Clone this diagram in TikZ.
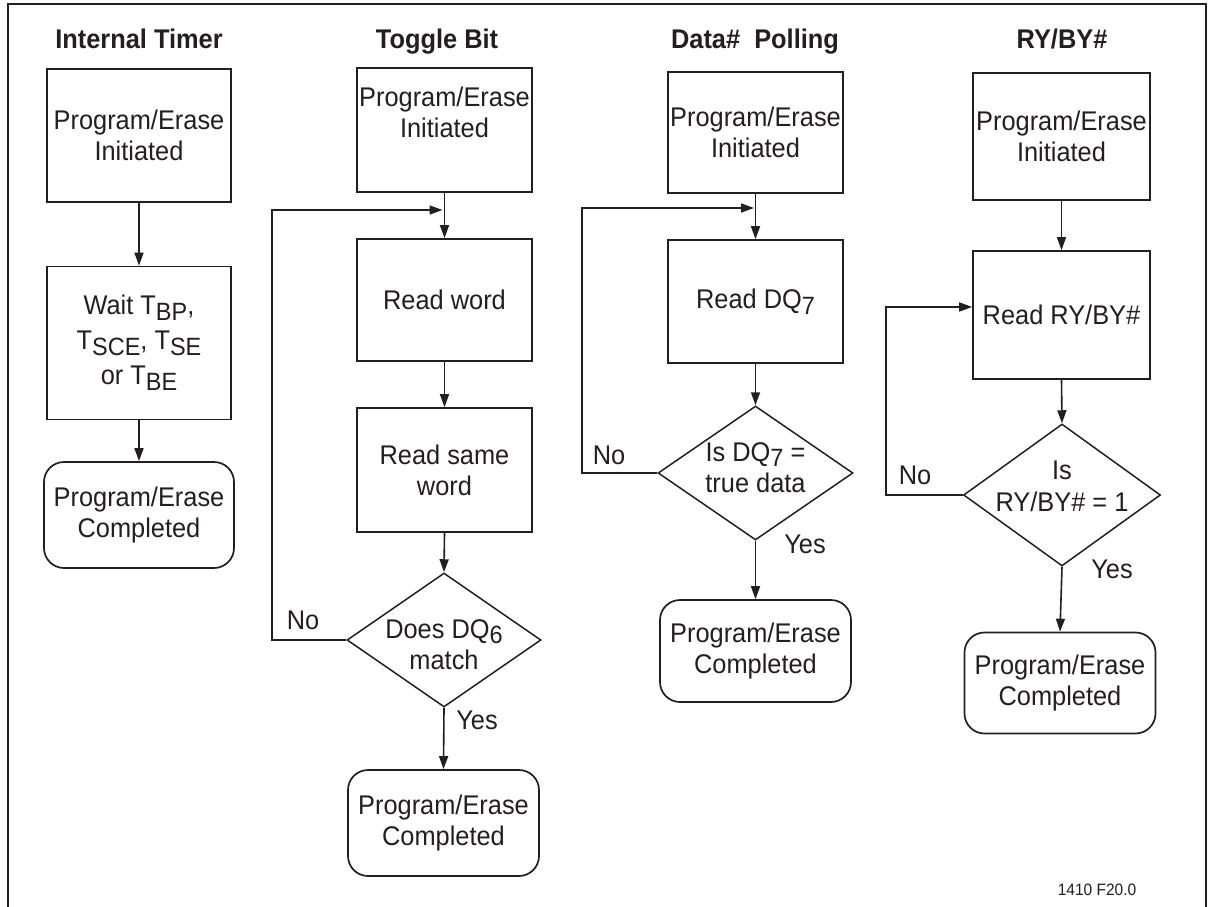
\documentclass[tikz,border=0pt]{standalone}
\usepackage{fontspec}
\setmainfont[FakeStretch=0.94]{Liberation Sans}
\usetikzlibrary{arrows.meta,shapes.geometric}
\definecolor{ink}{HTML}{231F20}
\newcommand\sbs[1]{\raisebox{-6pt}{\fontsize{25}{25}\selectfont #1}}
\newcommand\sbt[1]{\raisebox{-5pt}{\fontsize{25}{25}\selectfont #1}}
\begin{document}
\begin{tikzpicture}[x=1pt,y=-1pt,
  every node/.style={text=ink, font=\fontsize{27}{31}\selectfont},
  ttl/.style={font=\bfseries\fontsize{27}{31}\selectfont, anchor=base, inner sep=0pt},
  boxn/.style={draw=ink, line width=1.7pt, rectangle, inner sep=0pt, align=center},
  endn/.style={draw=ink, line width=1.7pt, rectangle, rounded corners=20pt, inner sep=0pt, align=center},
  dec/.style={draw=ink, line width=1.5pt, diamond, inner sep=0pt},
  dtxt/.style={lbl, align=center, font=\fontsize{27}{29}\selectfont},
  arr/.style={draw=ink, line width=1.6pt, -{Triangle[length=13pt,width=9pt]}},
  lbl/.style={inner sep=0pt}
]
\useasboundingbox (0,0) rectangle (1213,907);
\fill[white] (0,0) rectangle (1213,907);
\draw[ink, line width=2pt] (8,915) -- (8,4) -- (1206,4) -- (1206,915);

% Column 1
\node[ttl] (t1) at (139,49) {Internal Timer};
\node[boxn, minimum width=184pt, minimum height=133pt] (a1) at (139,135.5) {Program/Erase\\Initiated};
\node[boxn, minimum width=184pt, minimum height=153pt, font=\fontsize{27}{35}\selectfont] (a2) at (139,343) {Wait T\sbs{BP},\\T\sbs{SCE}, T\sbs{SE}\\or T\sbs{BE}};
\node[endn, minimum width=190pt, minimum height=106pt] (a3) at (139,515) {Program/Erase\\Completed};
\draw[arr] (a1.south) -- (a2.north);
\draw[arr] (a2.south) -- (a3.north);

% Column 2
\node[ttl] (t2) at (437,49) {Toggle Bit};
\node[boxn, minimum width=175pt, minimum height=124pt] (b1) at (444.5,130) {Program/Erase\\Initiated\\[4pt]};
\node[boxn, minimum width=175pt, minimum height=122pt] (b2) at (444.5,300) {Read word};
\node[boxn, minimum width=175pt, minimum height=124pt] (b3) at (444.5,470) {Read same\\word};
\node[dec, minimum width=194pt, minimum height=134pt,
  label={[dtxt, font=\fontsize{27}{31}\selectfont, yshift=-5pt]center:Does DQ\sbt{6}\\match}] (b4) at (444,640) {};
\node[endn, minimum width=191pt, minimum height=106pt] (b5) at (443.5,823) {Program/Erase\\Completed};
\coordinate (j2) at (444,210);
\coordinate (l2) at (272,210);
\draw[arr] (b1.south) -- (b2.north);
\draw[arr] (b2.south) -- (b3.north);
\draw[arr] (b3.south) -- (b4.north);
\draw[arr] (b4.south) -- (b5.north);
\draw[arr, shorten >=1.5pt] (b4.west) -| (l2) -- (j2);
\node[lbl] (n2) at (303,620) {No};
\node[lbl] (y2) at (477,720) {Yes};

% Column 3
\node[ttl] (t3) at (755,49) {Data\#\ \ Polling};
\node[boxn, minimum width=175pt, minimum height=121pt] (c1) at (755.5,132.5) {Program/Erase\\Initiated};
\node[boxn, minimum width=175pt, minimum height=123pt] (c2) at (755.5,301.5) {Read DQ\sbs{7}};
\node[dec, minimum width=195pt, minimum height=134pt,
  label={[dtxt, font=\fontsize{27}{31}\selectfont, yshift=5pt]center:Is DQ\sbt{7} =\\true data}] (c3) at (755.5,473) {};
\node[endn, minimum width=191pt, minimum height=102pt] (c4) at (755.5,651) {Program/Erase\\Completed};
\coordinate (j3) at (755.5,208);
\coordinate (l3) at (582,208);
\draw[arr] (c1.south) -- (c2.north);
\draw[arr] (c2.south) -- (c3.north);
\draw[arr] (c3.south) -- (c4.north);
\draw[arr, shorten >=1.5pt] (c3.west) -| (l3) -- (j3);
\node[lbl] (n3) at (609,455) {No};
\node[lbl] (y3) at (805,544) {Yes};

% Column 4
\node[ttl] (t4) at (1062,49) {RY/BY\#};
\node[boxn, minimum width=177pt, minimum height=127pt] (d1) at (1061.5,136.5) {Program/Erase\\Initiated};
\node[boxn, minimum width=177pt, minimum height=128pt] (d2) at (1061.5,315) {Read RY/BY\#};
\node[dec, minimum width=197pt, minimum height=142pt,
  label={[dtxt, font=\fontsize{27}{32}\selectfont, yshift=9pt]center:Is\\RY/BY\# = 1}] (d3) at (1062,495) {};
\node[endn, minimum width=191pt, minimum height=101pt] (d4) at (1060,683) {Program/Erase\\Completed};
\coordinate (l4) at (886,307);
\draw[arr] (d1.south) -- (d2.north);
\draw[arr] (d2.south) -- (d3.north);
\draw[arr] (d3.south) -- (d4.north);
\draw[arr] (d3.west) -| (l4) -- (d2.west |- l4);
\node[lbl] (n4) at (915,475) {No};
\node[lbl] (y4) at (1112,569) {Yes};

\node[lbl, font=\fontsize{16.5}{19}\selectfont] (fn) at (1097,890) {1410 F20.0};
\end{tikzpicture}
\end{document}
